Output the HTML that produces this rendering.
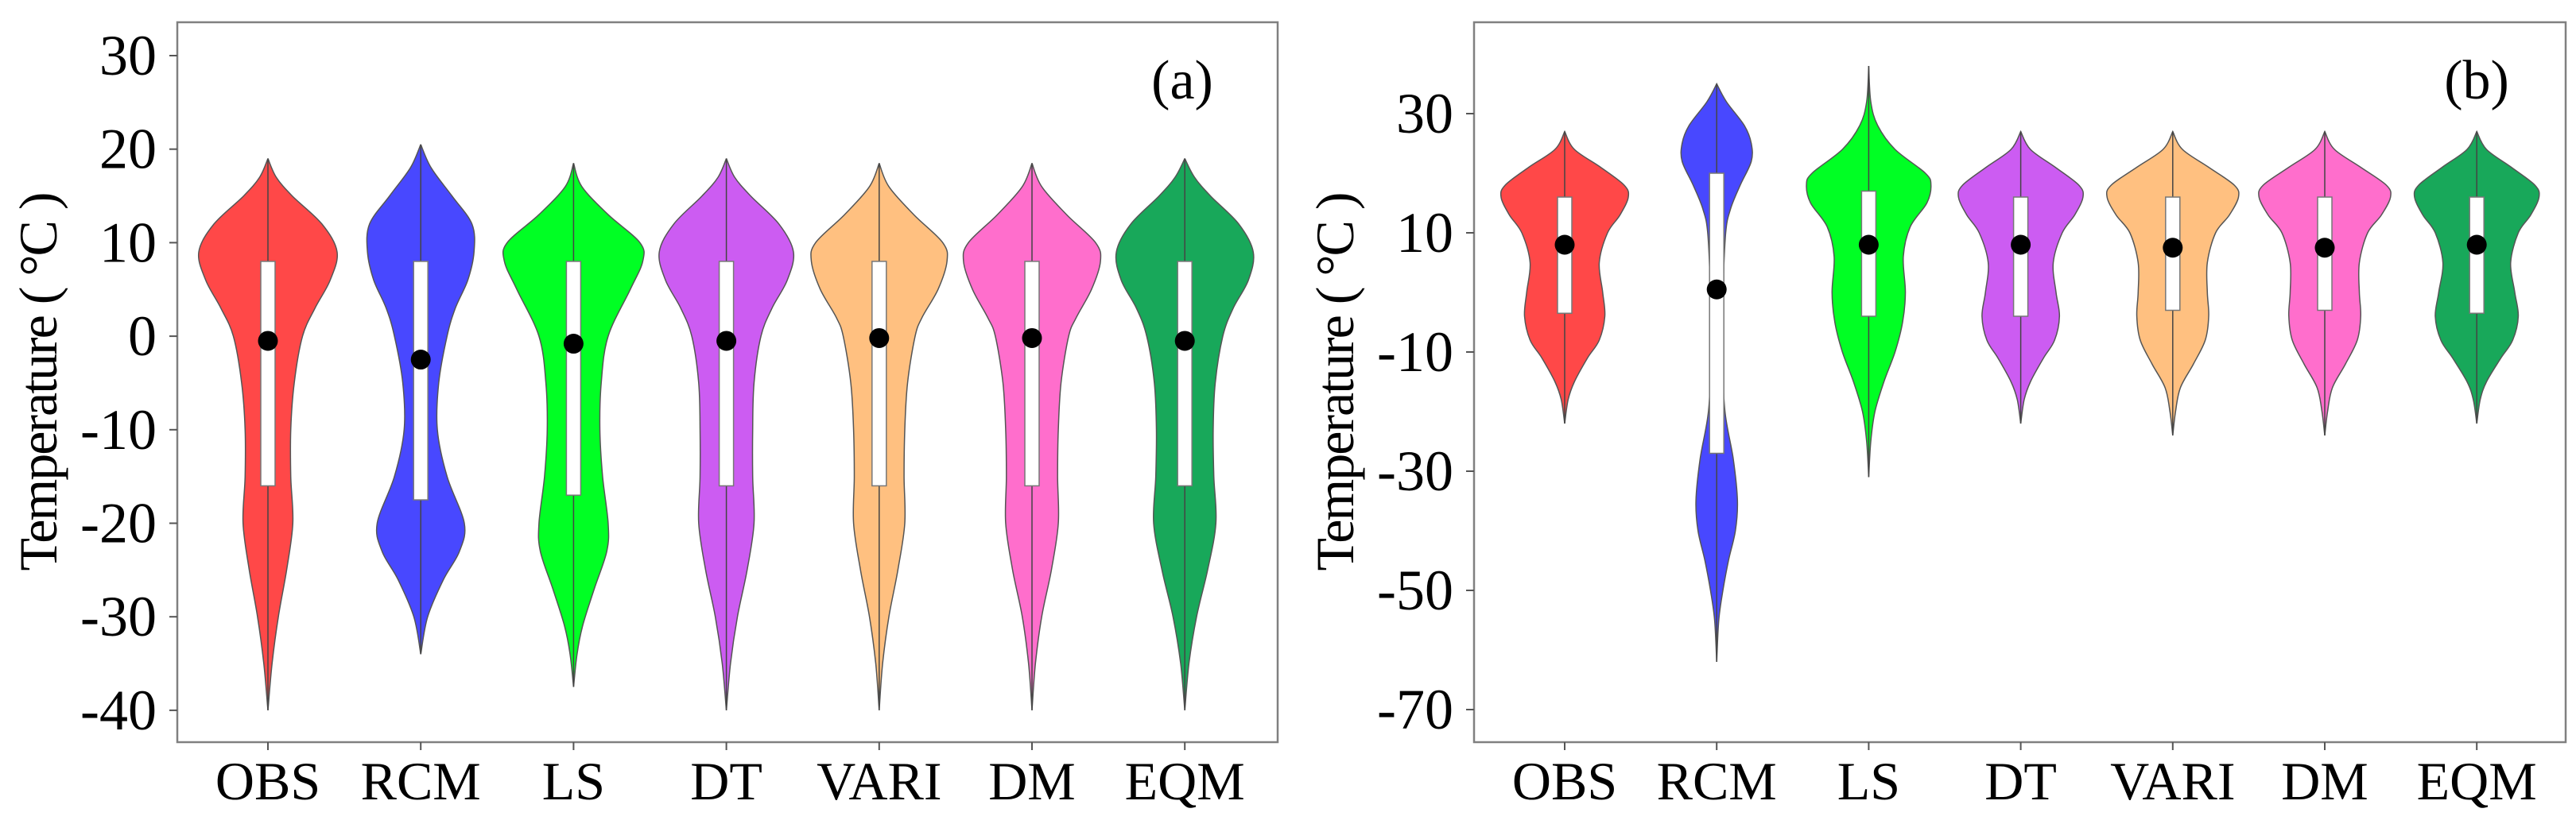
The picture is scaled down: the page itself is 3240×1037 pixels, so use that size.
<!DOCTYPE html>
<html><head><meta charset="utf-8"><style>
html,body{margin:0;padding:0;background:#fff}
svg{display:block}
text{font-family:"Liberation Serif",serif;fill:#000}
</style></head><body>
<svg id="chart" width="3240" height="1037" viewBox="0 0 3240 1037" xmlns="http://www.w3.org/2000/svg"></svg>
<script>
const categories = ["OBS","RCM","LS","DT","VARI","DM","EQM"];
const colors = ["#FF4848","#4848FF","#00FF24","#CC5CF2","#FFC080","#FF6ECC","#18A85A"];
// Panel (a) densities: [temperature, relative half-width]
const densA = [
 [[19,0],[17,0.12],[15,0.35],[12,0.78],[9,1.0],[6,0.9],[3,0.68],[0,0.5],[-5,0.38],[-10,0.33],[-15,0.33],[-20,0.36],[-25,0.27],[-30,0.15],[-35,0.06],[-40,0]],
 [[20.5,0],[18,0.15],[15,0.45],[12,0.74],[9,0.77],[6,0.68],[3,0.5],[0,0.38],[-5,0.26],[-10,0.24],[-15,0.38],[-20,0.63],[-23,0.56],[-26,0.33],[-30,0.1],[-34,0]],
 [[18.5,0],[16,0.12],[13,0.5],[10,0.96],[8,1.0],[5,0.82],[0,0.5],[-5,0.4],[-10,0.38],[-15,0.42],[-20,0.5],[-23,0.48],[-27,0.3],[-31,0.13],[-34,0.05],[-37.5,0]],
 [[19,0],[17,0.12],[15,0.35],[12,0.76],[9,0.97],[6,0.88],[3,0.66],[0,0.5],[-5,0.4],[-10,0.38],[-15,0.38],[-20,0.4],[-25,0.3],[-30,0.16],[-35,0.06],[-40,0]],
 [[18.5,0],[16,0.14],[13,0.5],[10,0.92],[8,0.98],[5,0.85],[2,0.62],[0,0.52],[-5,0.41],[-10,0.37],[-15,0.36],[-20,0.37],[-25,0.27],[-30,0.14],[-35,0.05],[-40,0]],
 [[18.5,0],[16,0.14],[13,0.5],[10,0.92],[8,0.99],[5,0.86],[2,0.64],[0,0.53],[-5,0.42],[-10,0.38],[-15,0.37],[-20,0.38],[-25,0.28],[-30,0.14],[-35,0.05],[-40,0]],
 [[19,0],[17,0.14],[15,0.37],[12,0.78],[9,0.99],[6,0.92],[3,0.7],[0,0.55],[-5,0.44],[-10,0.41],[-15,0.42],[-20,0.45],[-25,0.33],[-30,0.17],[-35,0.06],[-40,0]]
];
const boxA = [[-16,8],[-17.5,8],[-17,8],[-16,8],[-16,8],[-16,8],[-16,8]];
const medA = [-0.5,-2.5,-0.8,-0.5,-0.2,-0.2,-0.5];
// Panel (b)
const densB = [
 [[27,0],[24,0.14],[21,0.52],[18,0.86],[16,0.92],[13,0.8],[10,0.62],[5,0.5],[0,0.55],[-4,0.58],[-8,0.5],[-11,0.33],[-15,0.14],[-18,0.05],[-22,0]],
 [[35,0],[32,0.14],[28,0.4],[25,0.5],[22,0.5],[18,0.34],[14,0.2],[10,0.13],[0,0.09],[-10,0.08],[-20,0.12],[-28,0.24],[-35,0.3],[-40,0.27],[-45,0.17],[-50,0.09],[-55,0.03],[-62,0]],
 [[38,0],[32,0.03],[28,0.13],[24,0.38],[20,0.82],[18,0.9],[15,0.84],[11,0.6],[6,0.5],[0,0.53],[-5,0.49],[-10,0.38],[-15,0.22],[-20,0.09],[-25,0.03],[-31,0]],
 [[27,0],[24,0.14],[21,0.5],[18,0.84],[16,0.9],[13,0.78],[10,0.6],[5,0.47],[0,0.51],[-4,0.56],[-8,0.49],[-11,0.33],[-15,0.14],[-18,0.05],[-22,0]],
 [[27,0],[24,0.14],[21,0.52],[18,0.89],[16,0.95],[13,0.82],[10,0.62],[5,0.5],[0,0.5],[-4,0.52],[-8,0.47],[-12,0.3],[-16,0.11],[-20,0.04],[-24,0]],
 [[27,0],[24,0.14],[21,0.52],[18,0.89],[16,0.95],[13,0.82],[10,0.62],[5,0.5],[0,0.5],[-4,0.52],[-8,0.47],[-12,0.3],[-16,0.11],[-20,0.04],[-24,0]],
 [[27,0],[24,0.14],[21,0.5],[18,0.84],[16,0.9],[13,0.78],[10,0.6],[5,0.49],[0,0.55],[-4,0.6],[-8,0.52],[-11,0.35],[-15,0.14],[-18,0.05],[-22,0]]
];
const boxB = [[-3.5,16],[-27,20],[-4,17],[-4,16],[-3,16],[-3,16],[-3.5,16]];
const medB = [8,0.5,8,8,7.5,7.5,8];
const ticksA = [30,20,10,0,-10,-20,-30,-40];
const ticksB = [30,10,-10,-30,-50,-70];

const NS="http://www.w3.org/2000/svg";
const svg=document.getElementById('chart');
function mk(tag,attrs,parent){const e=document.createElementNS(NS,tag);for(const k in attrs)e.setAttribute(k,attrs[k]);(parent||svg).appendChild(e);return e;}
function crPath(pts){
  let d="M"+pts[0][0]+","+pts[0][1];
  for(let i=0;i<pts.length-1;i++){
    const p0=pts[Math.max(i-1,0)],p1=pts[i],p2=pts[i+1],p3=pts[Math.min(i+2,pts.length-1)];
    const c1=[p1[0]+(p2[0]-p0[0])/6,p1[1]+(p2[1]-p0[1])/6];
    const c2=[p2[0]-(p3[0]-p1[0])/6,p2[1]-(p3[1]-p1[1])/6];
    d+=" C"+c1[0].toFixed(1)+","+c1[1].toFixed(1)+" "+c2[0].toFixed(1)+","+c2[1].toFixed(1)+" "+p2[0].toFixed(1)+","+p2[1].toFixed(1);
  }
  return d;
}
function panel(cfg){
  const g=mk('g',{});
  
  
  const yS=v=>cfg.y0+(cfg.v0-v)*cfg.k;
  const xS=i=>cfg.cx0+i*cfg.step;
  const fr=mk('rect',{x:cfg.L,y:28,width:cfg.R-cfg.L,height:906,fill:'none',stroke:'#808080','stroke-width':2.5},g);
  
  
  cfg.ticks.forEach(t=>{
    const y=yS(t);
    const tk=mk('line',{x1:cfg.L-10,x2:cfg.L,y1:y,y2:y,stroke:'#555','stroke-width':2},g);
    
    
    const tx=mk('text',{x:cfg.L-26,y:y+24,'text-anchor':'end','font-size':72},g);
    tx.textContent=String(t);
    
    
  });
  categories.forEach((c,i)=>{
    const cx=xS(i);
    const tk=mk('line',{x1:cx,x2:cx,y1:934,y2:944,stroke:'#555','stroke-width':2},g);
    
    
    const tx=mk('text',{x:cx,y:1006,'text-anchor':'middle','font-size':68},g);
    tx.textContent=c;
    
    
    const dens=cfg.dens[i];
    const right=dens.map(p=>[cx+p[1]*87,yS(p[0])]);
    const left=dens.slice().reverse().map(p=>[cx-p[1]*87,yS(p[0])]);
    const d=crPath(right)+" "+crPath(left).replace(/^M/,"L")+" Z";
    const v=mk('path',{d:d,fill:colors[i],stroke:'#555','stroke-width':1.5},g);
    
    
    const wl=mk('line',{x1:cx,x2:cx,y1:yS(dens[0][0]),y2:yS(dens[dens.length-1][0]),stroke:'#444','stroke-width':1.5},g);
    
    
    const b=cfg.box[i];
    const bx=mk('rect',{x:cx-9,y:yS(b[1]),width:18,height:yS(b[0])-yS(b[1]),fill:'#fff',stroke:'#777','stroke-width':1.5},g);
    
    
    const m=mk('circle',{cx:cx,cy:yS(cfg.med[i]),r:12.5,fill:'#000'},g);
    
    
  });
  const yt=mk('text',{x:0,y:0,'text-anchor':'middle','font-size':68,textLength:477,lengthAdjust:'spacing',transform:'translate('+(cfg.L-152)+',480) rotate(-90)'},g);
  yt.textContent='Temperature ( °C )';
  
  
  const pl=mk('text',{x:cfg.labX,y:124,'text-anchor':'middle','font-size':70},g);
  pl.textContent=cfg.lab;
  
  
}
panel({name:'panel-a',L:223,R:1607,v0:30,y0:70,k:11.77,cx0:337,step:192.2,ticks:ticksA,dens:densA,box:boxA,med:medA,lab:'(a)',labX:1487});
panel({name:'panel-b',L:1854,R:3227,v0:30,y0:143,k:7.5,cx0:1968,step:191.2,ticks:ticksB,dens:densB,box:boxB,med:medB,lab:'(b)',labX:3115});
</script>
</body></html>
